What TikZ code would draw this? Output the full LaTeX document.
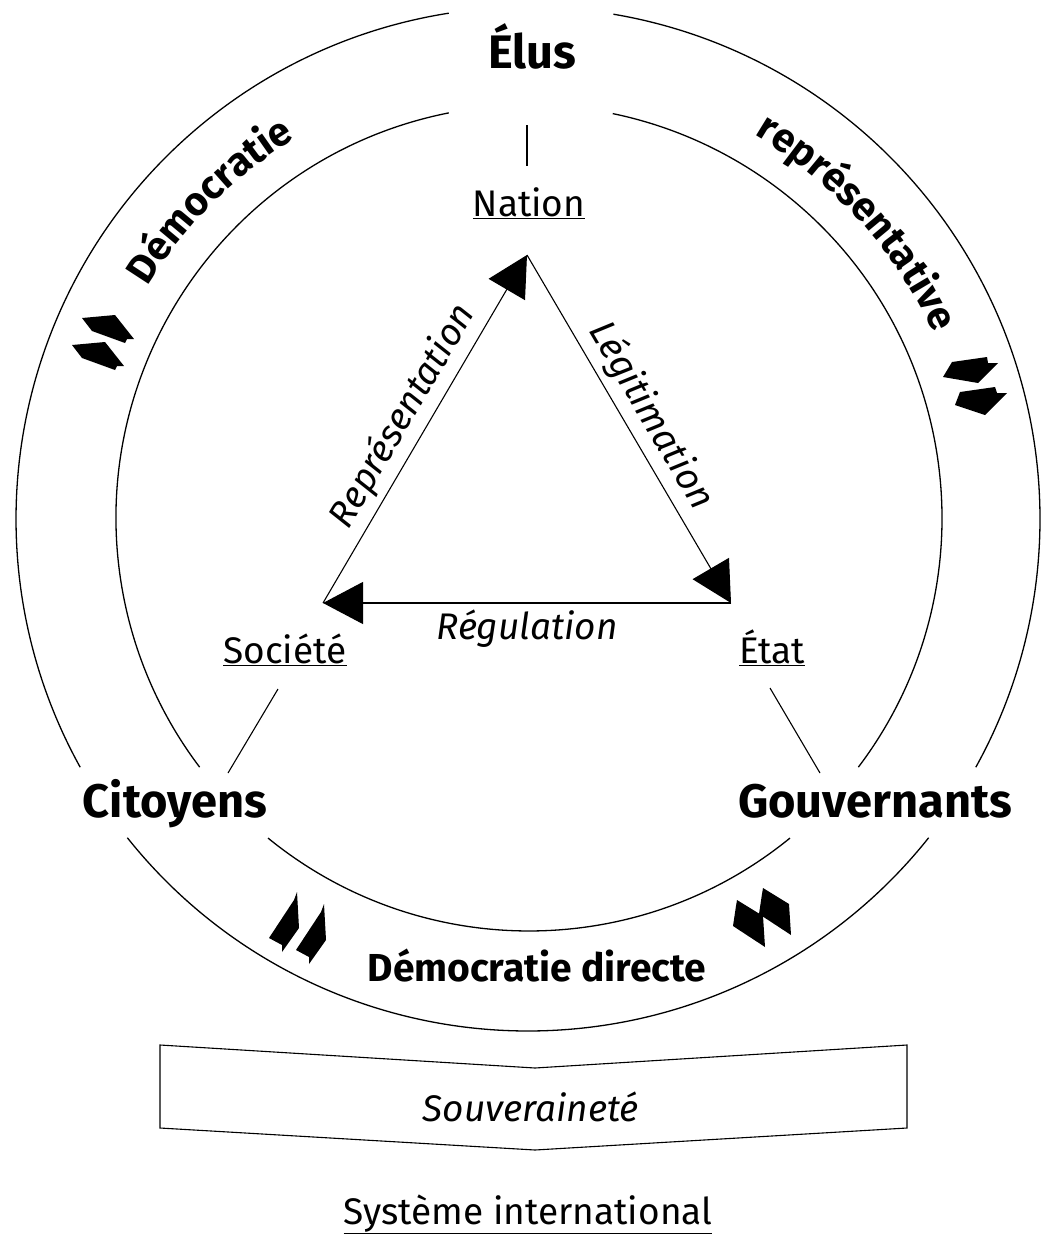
\documentclass[tikz,border=0pt]{standalone}
\usepackage{fontspec}
\setmainfont{Fira Sans}
\usetikzlibrary{arrows.meta,calc,decorations.text}

\tikzset{
  cercle/.style={line width=1.3pt},
  grand/.style={font=\fontsize{47}{50}\selectfont\bfseries, anchor=base},
  pole/.style={font=\fontsize{37}{40}\selectfont, anchor=base},
  flux/.style={font=\fontsize{37}{40}\selectfont\itshape},
  fleche/.style={line width=1.1pt, -{Triangle[length=40pt,width=42pt]}},
  trait/.style={line width=1.1pt},
  picto/.style={fill=black, draw=none},
  arctexte/.style={decorate, decoration={text along path, text align=center, text={|\fontsize{40}{44}\selectfont\bfseries|#1}}},
}

\begin{document}
\begin{tikzpicture}[x=1pt, y=1pt]
  \useasboundingbox (0,0) rectangle (1048,-1237);

  % cercle exterieur
  \draw[cercle] ([shift={(528,-519)}]98.9:512) arc[start angle=98.9, end angle=209, radius=512];
  \draw[cercle] ([shift={(528,-519)}]218.5:512) arc[start angle=218.5, end angle=321.5, radius=512];
  \draw[cercle] ([shift={(528,-519)}]331:512) arc[start angle=331, end angle=440.4, radius=512];
  % cercle interieur
  \draw[cercle] ([shift={(529,-518)}]101.2:413) arc[start angle=101.2, end angle=217.1, radius=413];
  \draw[cercle] ([shift={(529,-518)}]230.8:413) arc[start angle=230.8, end angle=309.2, radius=413];
  \draw[cercle] ([shift={(529,-518)}]322.9:413) arc[start angle=322.9, end angle=438.3, radius=413];

  % textes sur l'anneau
  \path[arctexte=Démocratie] ([shift={(528,-519)}]175:446) arc[start angle=175, end angle=95, radius=446];
  \path[arctexte=représentative] ([shift={(528,-519)}]85:446) arc[start angle=85, end angle=-1, radius=446];

  \node[grand] (elus) at (532,-68) {Élus};
  \node[grand] (cit) at (175,-817) {Citoyens};
  \node[grand] (gouv) at (875,-817) {Gouvernants};
  \node[font=\fontsize{39}{42}\selectfont\bfseries, anchor=base] (dir) at (537,-981) {Démocratie directe};

  \node[pole] (nation) at (529,-216) {\underline{Nation}};
  \node[pole] (soc) at (285,-663) {\underline{Société}};
  \node[pole] (etat) at (772,-663) {\underline{État}};

  \draw[trait] ($(elus.base)+(-5,-57)$) -- ($(nation.base)+(-2,50)$);
  \draw[trait] ($(soc.base)+(-7,-26)$) -- ($(cit.base)+(53,44)$);
  \draw[trait] ($(etat.base)+(-2,-25)$) -- ($(gouv.base)+(-55,44)$);

  % triangle
  \coordinate (tn) at (527,-255);
  \coordinate (ts) at (323,-603);
  \coordinate (te) at (731,-603);
  \draw[fleche] (ts) -- node[flux, sloped, above=3pt] {Représentation} (tn);
  \draw[fleche] (tn) -- node[flux, sloped, above=3pt] {Légitimation} (te);
  \draw[fleche] (te) -- node[flux, below=3pt] {Régulation} (ts);

  % doubles fleches
  \fill[picto] (82,-318) -- (115,-315) -- (134,-339) -- (127,-339) -- (125,-343) -- (92,-331) -- cycle;
  \fill[picto] (72,-345) -- (105,-342) -- (124,-366) -- (117,-366) -- (115,-370) -- (82,-358) -- cycle;
  \fill[picto] (952,-362) -- (987,-357) -- (988,-363) -- (998,-363) -- (978,-383) -- (943,-377) -- cycle;
  \fill[picto] (960,-392) -- (995,-387) -- (997,-393) -- (1007,-393) -- (985,-415) -- (955,-405) -- cycle;
  \fill[picto] (297,-892) -- (299,-928) -- (282,-952) -- (282,-945) -- (269,-938) -- (294,-900) -- cycle;
  \fill[picto] (324,-904) -- (326,-940) -- (309,-964) -- (309,-957) -- (296,-950) -- (321,-912) -- cycle;
  \fill[picto] (737,-900) -- (763,-916) -- (765,-947) -- (733,-926) -- (736,-906) -- cycle;
  \fill[picto] (763,-888) -- (789,-904) -- (791,-935) -- (759,-914) -- (762,-894) -- cycle;

  % souverainete
  \draw[trait] (160,-1045) -- (535,-1068) -- (907,-1045) -- (907,-1128) -- (535,-1150) -- (160,-1128) -- cycle;
  \node[flux, anchor=base] (souv) at (531,-1121) {Souveraineté};

  \node[pole] (sys) at (528,-1224) {\underline{Système international}};
\end{tikzpicture}
\end{document}
